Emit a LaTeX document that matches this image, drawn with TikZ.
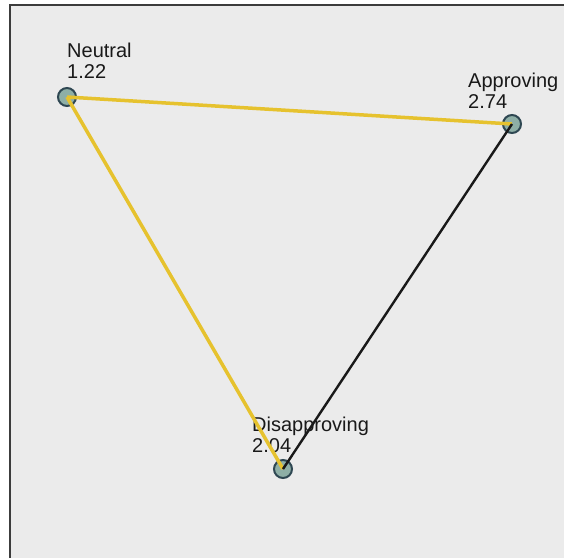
\documentclass[tikz,border=0pt]{standalone}
\usepackage{fontspec}
\setmainfont{Liberation Sans}
\definecolor{panelbg}{HTML}{EBEBEB}
\definecolor{frameclr}{HTML}{3C3C3C}
\definecolor{edgeyellow}{HTML}{E6C22E}
\definecolor{vfill}{HTML}{8EAFA6}
\definecolor{vdraw}{HTML}{2E4752}
\tikzset{
  vertex/.style={circle,fill=vfill,draw=vdraw,line width=2pt,minimum size=18pt,inner sep=0pt},
  vlabel/.style={anchor=north west,inner sep=0pt,align=left,font=\fontsize{20}{21}\selectfont,text=black!90},
  yedge/.style={draw=edgeyellow,line width=3.5pt},
  kedge/.style={draw=black!90,line width=2.4pt}
}
\begin{document}
\begin{tikzpicture}[x=1pt,y=-1pt]
\useasboundingbox (0,0) rectangle (564,558);
\fill[white] (0,0) rectangle (564,558);
\fill[panelbg] (10,5) rectangle (564,558);
\draw[frameclr,line width=2pt] (10,558) -- (10,5) -- (564,5);
\node[vlabel] (ln) at (67,43) {Neutral\\1.22};
\node[vlabel] (la) at (468,73) {Approving\\2.74};
\node[vlabel] (ld) at (252,417) {Disapproving\\2.04};
\node[vertex] (n) at (67,97) {};
\node[vertex] (a) at (512,124) {};
\node[vertex] (d) at (283,469) {};
\draw[yedge] (n.center) -- (a.center);
\draw[yedge] (n.center) -- (d.center);
\draw[kedge] (a.center) -- (d.center);
\end{tikzpicture}
\end{document}
